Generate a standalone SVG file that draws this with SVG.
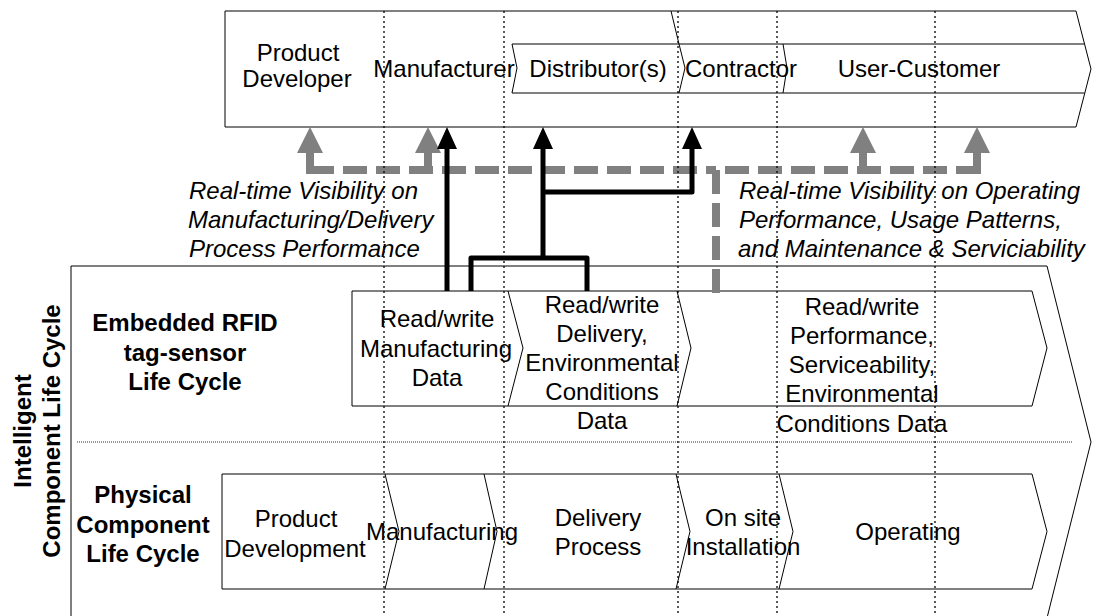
<svg xmlns="http://www.w3.org/2000/svg" width="1095" height="616" viewBox="0 0 1095 616">
  <defs>
    <style>
      .shape { fill: #fff; stroke: #000; stroke-width: 1; }
      .line { fill: none; stroke: #000; stroke-width: 1; }
      .lbl { font-family: "Liberation Sans", Arial, sans-serif; font-size: 24px; fill: #000; text-anchor: middle; }
      .bold { font-weight: bold; }
      .note { font-family: "Liberation Sans", Arial, sans-serif; font-size: 24px; font-style: italic; fill: #000; }
      .flow { fill: none; stroke: #000; stroke-width: 5; stroke-linejoin: round; stroke-linecap: butt; }
      .feed { fill: none; stroke: #808080; stroke-width: 8; stroke-dasharray: 24 9; }
      .feedstem { fill: none; stroke: #808080; stroke-width: 8; }
      .grid { stroke: #000; stroke-width: 1.3; stroke-dasharray: 2 3; }
      .divider { stroke: #333; stroke-width: 1; stroke-dasharray: 1 1; }
    </style>
  </defs>

  <!-- Supply chain participants (top band) -->
  <g id="participants">
    <polygon class="shape" points="225,11 1076,11 1091,69 1076,127 225,127"/>
    <!-- inner band for distributor / contractor / user -->
    <polyline class="line" points="512,44 1084.5,44"/>
    <polyline class="line" points="512,93 1084.5,93"/>
    <polyline class="line" points="512,44 517,68 512,93"/>
    <polyline class="line" points="671,11 679,44 685,68 679,93"/>
    <polyline class="line" points="783,44 787,68 783,93"/>
  </g>
  <g id="product-developer">
    <text class="lbl" x="298" y="61">Product</text>
    <text class="lbl" x="297" y="87">Developer</text>
  </g>
  <g id="manufacturer"><text class="lbl" x="444" y="77">Manufacturer</text></g>
  <g id="distributors"><text class="lbl" x="598" y="77">Distributor(s)</text></g>
  <g id="contractor"><text class="lbl" x="741" y="77">Contractor</text></g>
  <g id="user-customer"><text class="lbl" x="919" y="77">User-Customer</text></g>

  <!-- Intelligent component life cycle (large chevron) -->
  <g id="intelligent-component">
    <polygon class="shape" points="71,266 1047,266 1091,442 1047,618 71,618"/>
    <line class="divider" x1="77" y1="442" x2="1073" y2="442"/>
    <text class="lbl bold" transform="translate(31,431) rotate(-90)">Intelligent</text>
    <text class="lbl bold" transform="translate(60,431) rotate(-90)">Component Life Cycle</text>
  </g>

  <!-- Embedded RFID tag-sensor life cycle -->
  <g id="rfid-lifecycle">
    <text class="lbl bold" x="185" y="331">Embedded RFID</text>
    <text class="lbl bold" x="185" y="361">tag-sensor</text>
    <text class="lbl bold" x="185" y="390">Life Cycle</text>
    <polygon class="shape" points="352,291 1032,291 1047,348 1032,406 352,406"/>
    <polyline class="line" points="508,291 523,348 508,406"/>
    <polyline class="line" points="677,291 691,348 677,406"/>
  </g>
  <g id="rw-manufacturing">
    <text class="lbl" x="437" y="327">Read/write</text>
    <text class="lbl" x="436" y="356.5">Manufacturing</text>
    <text class="lbl" x="437" y="386">Data</text>
  </g>
  <g id="rw-delivery">
    <text class="lbl" x="602" y="313">Read/write</text>
    <text class="lbl" x="602" y="342">Delivery,</text>
    <text class="lbl" x="602" y="371">Environmental</text>
    <text class="lbl" x="602" y="400">Conditions</text>
    <text class="lbl" x="602" y="429">Data</text>
  </g>
  <g id="rw-performance">
    <text class="lbl" x="862" y="315">Read/write</text>
    <text class="lbl" x="862" y="344">Performance,</text>
    <text class="lbl" x="862" y="373">Serviceability,</text>
    <text class="lbl" x="862" y="402">Environmental</text>
    <text class="lbl" x="862" y="432">Conditions Data</text>
  </g>

  <!-- Physical component life cycle -->
  <g id="physical-lifecycle">
    <text class="lbl bold" x="143" y="503">Physical</text>
    <text class="lbl bold" x="143" y="533">Component</text>
    <text class="lbl bold" x="143" y="562">Life Cycle</text>
    <polygon class="shape" points="222,474 1032,474 1047,531.5 1032,589 222,589"/>
    <polyline class="line" points="385,474 399,531.5 385,589"/>
    <polyline class="line" points="484,474 497,531.5 484,589"/>
    <polyline class="line" points="676,474 690,531.5 676,589"/>
    <polyline class="line" points="779,474 793,531.5 779,589"/>
  </g>
  <g id="product-development">
    <text class="lbl" x="296" y="527">Product</text>
    <text class="lbl" x="295" y="557">Development</text>
  </g>
  <g id="manufacturing"><text class="lbl" x="442" y="540">Manufacturing</text></g>
  <g id="delivery-process">
    <text class="lbl" x="598" y="526">Delivery</text>
    <text class="lbl" x="598" y="555">Process</text>
  </g>
  <g id="installation">
    <text class="lbl" x="743" y="526">On site</text>
    <text class="lbl" x="743" y="555">Installation</text>
  </g>
  <g id="operating"><text class="lbl" x="908" y="540">Operating</text></g>

  <!-- Visibility notes -->
  <g id="note-manufacturing">
    <text class="note" x="189" y="199">Real-time Visibility on</text>
    <text class="note" x="188" y="228">Manufacturing/Delivery</text>
    <text class="note" x="189" y="257">Process Performance</text>
  </g>
  <g id="note-operating">
    <text class="note" x="739" y="199">Real-time Visibility on Operating</text>
    <text class="note" x="739" y="228">Performance, Usage Patterns,</text>
    <text class="note" x="738" y="257">and Maintenance &amp; Serviciability</text>
  </g>

  <!-- Connectors: grey dashed feedback, black data flows -->
  <g id="connectors">
    <path class="feed" d="M716,293 V170 H975"/>
    <path class="feed" d="M310,170 H716"/>
    <path class="feedstem" d="M310,174 V152 M428,174 V152 M863,174 V152 M977,174 V152"/>
    <polygon fill="#808080" points="297,153 323,153 310,127"/>
    <polygon fill="#808080" points="415,153 441,153 428,127"/>
    <polygon fill="#808080" points="850,153 876,153 863,127"/>
    <polygon fill="#808080" points="964,153 990,153 977,127"/>

    <path class="flow" d="M447,291 V147"/>
    <path class="flow" d="M471,291 V258 H587 V291"/>
    <path class="flow" d="M543,258 V147"/>
    <path class="flow" d="M543,192 H692 V147"/>
    <polygon fill="#000" points="437,149 457,149 447,127"/>
    <polygon fill="#000" points="533,149 553,149 543,127"/>
    <polygon fill="#000" points="682,149 702,149 692,127"/>
  </g>

  <!-- Stage boundaries -->
  <g id="stage-grid">
    <line class="grid" x1="384" y1="11" x2="384" y2="616"/>
    <line class="grid" x1="504" y1="11" x2="504" y2="616"/>
    <line class="grid" x1="678" y1="11" x2="678" y2="616"/>
    <line class="grid" x1="777" y1="11" x2="777" y2="616"/>
    <line class="grid" x1="935" y1="11" x2="935" y2="616"/>
  </g>
</svg>
